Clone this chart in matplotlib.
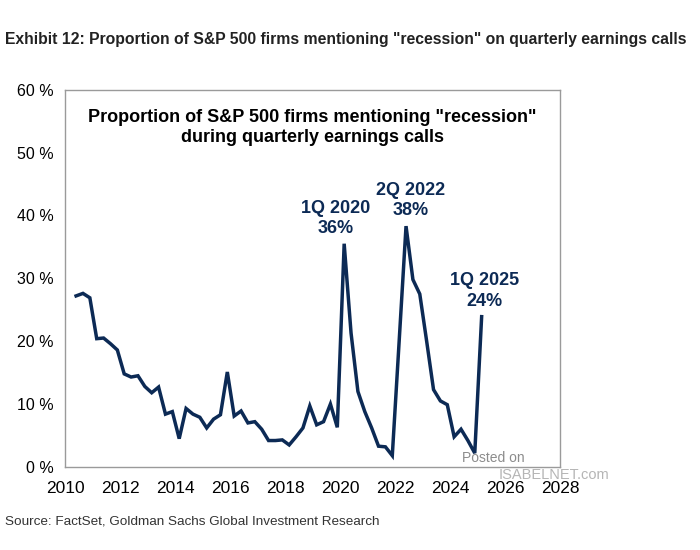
import numpy as np
import pandas as pd
import matplotlib
matplotlib.use("Agg")
import matplotlib.pyplot as plt

# quarterly share of S&P 500 firms mentioning "recession" (%), 2Q 2010 .. 1Q 2025
start_quarter = "2010Q2"
end_quarter = "2025Q1"
share = [27.2, 27.6, 26.9, 20.4, 20.5, 19.6, 18.6, 14.8, 14.3, 14.5,
         12.8, 11.8, 12.7, 8.4, 8.8, 4.5, 9.3, 8.4, 7.9, 6.2,
         7.6, 8.3, 15.1, 8.1, 8.9, 7.0, 7.2, 6.0, 4.2, 4.2,
         4.3, 3.5, 4.8, 6.2, 9.7, 6.7, 7.2, 10.0, 6.3, 35.5,
         21.3, 12.0, 8.8, 6.2, 3.3, 3.2, 1.8, 20.0, 38.3, 29.8,
         27.5, 20.0, 12.3, 10.5, 9.9, 4.8, 6.0, 4.2, 2.2, 23.9]

callouts = {"2020Q1": "1Q 2020\n36%", "2022Q2": "2Q 2022\n38%", "2025Q1": "1Q 2025\n24%"}
callout_offsets = {"2020Q1": (-6, 5), "2022Q2": (3, 5), "2025Q1": (2, 5)}

year_ticks = list(range(2010, 2029, 2))
pct_ticks = list(range(0, 61, 10))

navy = "#0c2a55"

quarters = pd.period_range(start_quarter, end_quarter, freq="Q")
x = quarters.year + (quarters.quarter - 1) / 4 + 0.15

plt.rcParams["font.family"] = ["Liberation Sans", "DejaVu Sans"]

fig = plt.figure(figsize=(7, 5.5), dpi=100)
ax = fig.add_axes([0.093, 0.151, 0.707, 0.686])

ax.plot(x, share, color=navy, lw=2.5, solid_joinstyle="miter")

for q, label in callouts.items():
    i = list(quarters.astype(str)).index(q)
    ax.annotate(label, (x[i], share[i]), xytext=callout_offsets[q],
                textcoords="offset points", ha="center", va="bottom",
                fontsize=13, fontweight="bold", color=navy, linespacing=1.25)

ax.set_xlim(2010, 2028)
ax.set_ylim(0, 60)
ax.set_xticks(year_ticks)
ax.set_yticks(pct_ticks)
ax.set_yticklabels([f"{v} %" for v in pct_ticks])
ax.tick_params(length=0, labelsize=11.5, pad=8)
ax.tick_params(axis="x", labelsize=12.5, pad=10)
for s in ax.spines.values():
    s.set_color("#9a9a9a")
    s.set_linewidth(1)

ax.text(0.5, 0.899, 'Proportion of S&P 500 firms mentioning "recession"\nduring quarterly earnings calls',
        transform=ax.transAxes, ha="center", va="center", fontsize=13,
        fontweight="bold", linespacing=1.2)

fig.text(0.007, 0.928,
         'Exhibit 12: Proportion of S&P 500 firms mentioning "recession" on quarterly earnings calls',
         fontsize=11.3, fontweight="bold", ha="left", va="center", color="#222222")
fig.text(0.007, 0.052, "Source: FactSet, Goldman Sachs Global Investment Research",
         fontsize=9.7, ha="left", va="center", color="#333333")

# watermark
fig.text(0.66, 0.168, "Posted on", fontsize=10, color="#8c8c8c", ha="left", va="center")
fig.text(0.712, 0.136, "ISABELNET.com", fontsize=10.5, color="#b5b5b5", ha="left", va="center")

fig.savefig("out.png", dpi=100)
